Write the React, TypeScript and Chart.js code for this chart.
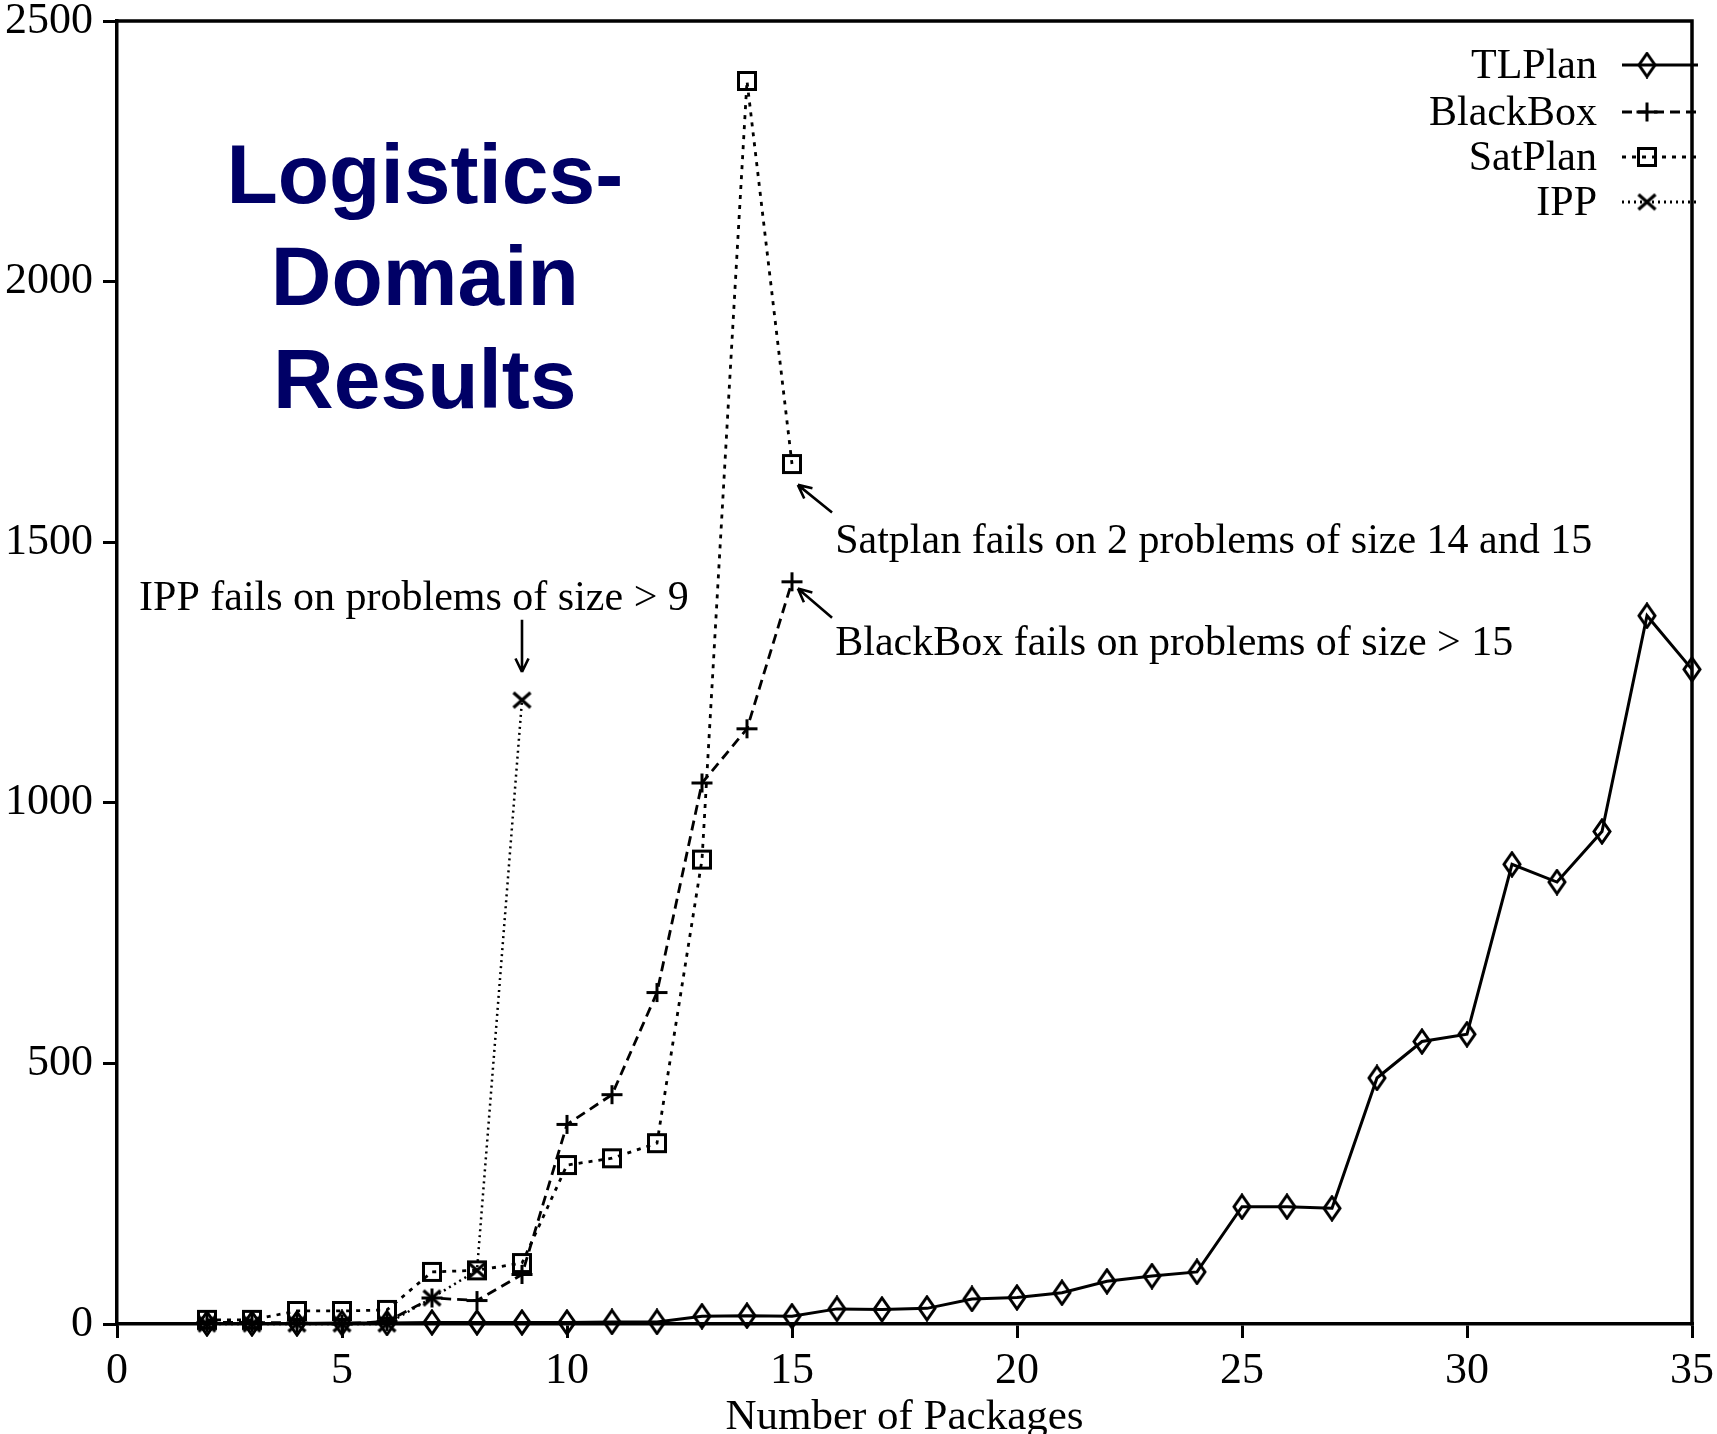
import React, { useEffect, useRef } from 'react';
import { Chart, registerables } from 'chart.js';

Chart.register(...registerables);

// ---- data ----
const tlplanX = [2, 3, 4, 5, 6, 7, 8, 9, 10, 11, 12, 13, 14, 15, 16, 17, 18, 19, 20, 21, 22, 23, 24, 25, 26, 27, 28, 29, 30, 31, 32, 33, 34, 35];
const tlplanY = [1, 1, 1, 2, 2, 3, 3, 3, 3, 4, 4, 15, 16, 15, 29, 28, 30, 48, 51, 60, 82, 92, 100, 225, 225, 222, 472, 542, 556, 882, 848, 945, 1359, 1256];

const blackboxX = [2, 3, 4, 5, 6, 7, 8, 9, 10, 11, 12, 13, 14, 15];
const blackboxY = [3, 3, 2, 0, 5, 50, 45, 95, 383, 440, 636, 1038, 1142, 1424];

const satplanX = [2, 3, 4, 5, 6, 7, 8, 9, 10, 11, 12, 13, 14, 15];
const satplanY = [8, 8, 25, 25, 27, 100, 103, 117, 305, 318, 347, 891, 2385, 1650];

const ippX = [2, 3, 4, 5, 6, 7, 8, 9];
const ippY = [0, 0, 0, 0, 0, 50, 103, 1197];

const seriesNames = ['TLPlan', 'BlackBox', 'SatPlan', 'IPP'];
const xTickValues = [0, 5, 10, 15, 20, 25, 30, 35];
const yTickValues = [0, 500, 1000, 1500, 2000, 2500];
const xAxisTitle = 'Number of Packages';
const titleLines = ['Logistics-', 'Domain', 'Results'];
const noteTexts = [
  'IPP fails on problems of size > 9',
  'Satplan fails on 2 problems of size 14 and 15',
  'BlackBox fails on problems of size > 15',
];

// ---- styling / placement (not data) ----
const SERIF = '"Liberation Serif", "Times New Roman", serif';
const SANS = '"Liberation Sans", Arial, sans-serif';
const NAVY = '#000066';

function makeMarker(kind: string): HTMLCanvasElement {
  const c = document.createElement('canvas');
  const dims: Record<string, [number, number]> = {
    diamond: [20, 27],
    plus: [23, 21],
    square: [22, 22],
    cross: [21, 19],
  };
  const [w, h] = dims[kind];
  c.width = w;
  c.height = h;
  const g = c.getContext('2d')!;
  g.strokeStyle = '#000';
  g.lineWidth = 3;
  g.beginPath();
  if (kind === 'diamond') {
    g.moveTo(w / 2, 2);
    g.lineTo(w - 2, h / 2);
    g.lineTo(w / 2, h - 2);
    g.lineTo(2, h / 2);
    g.closePath();
  } else if (kind === 'plus') {
    g.moveTo(1, h / 2);
    g.lineTo(w - 1, h / 2);
    g.moveTo(w / 2, 1);
    g.lineTo(w / 2, h - 1);
  } else if (kind === 'square') {
    g.rect(2.5, 2.5, w - 5, h - 5);
  } else {
    g.lineWidth = 3.2;
    g.moveTo(2, 2);
    g.lineTo(w - 2, h - 2);
    g.moveTo(w - 2, 2);
    g.lineTo(2, h - 2);
  }
  g.stroke();
  return c;
}

function zip(xs: number[], ys: number[]) {
  return xs.map((x, i) => ({ x, y: ys[i] }));
}

export default function App() {
  const ref = useRef<HTMLCanvasElement>(null);

  useEffect(() => {
    document.body.style.margin = '0';
    document.body.style.overflow = 'hidden';
    const markers = {
      diamond: makeMarker('diamond'),
      plus: makeMarker('plus'),
      square: makeMarker('square'),
      cross: makeMarker('cross'),
    };
    const dashes = {
      TLPlan: [] as number[],
      BlackBox: [10, 6],
      SatPlan: [4, 6],
      IPP: [2, 4],
    };
    const markerOf: Record<string, HTMLCanvasElement> = {
      TLPlan: markers.diamond,
      BlackBox: markers.plus,
      SatPlan: markers.square,
      IPP: markers.cross,
    };

    const arrow = (ctx: CanvasRenderingContext2D, x1: number, y1: number, x2: number, y2: number) => {
      ctx.save();
      ctx.strokeStyle = '#000';
      ctx.lineWidth = 2.6;
      ctx.setLineDash([]);
      ctx.beginPath();
      ctx.moveTo(x1, y1);
      ctx.lineTo(x2, y2);
      const a = Math.atan2(y2 - y1, x2 - x1);
      const L = 15;
      ctx.moveTo(x2, y2);
      ctx.lineTo(x2 - L * Math.cos(a - 0.45), y2 - L * Math.sin(a - 0.45));
      ctx.moveTo(x2, y2);
      ctx.lineTo(x2 - L * Math.cos(a + 0.45), y2 - L * Math.sin(a + 0.45));
      ctx.stroke();
      ctx.restore();
    };

    const decorPlugin = {
      id: 'decor',
      beforeDatasetsDraw(chart: any) {
        const { ctx, chartArea } = chart;
        ctx.save();
        ctx.strokeStyle = '#000';
        ctx.lineWidth = 3.5;
        ctx.beginPath();
        ctx.moveTo(chartArea.left - 1.5, chartArea.top);
        ctx.lineTo(chartArea.right, chartArea.top);
        ctx.lineTo(chartArea.right, chartArea.bottom + 1.5);
        ctx.stroke();
        ctx.restore();
      },
      afterDraw(chart: any) {
        const { ctx, chartArea } = chart;
        const xs = chart.scales.x;
        const ys = chart.scales.y;
        const px = (v: number) => xs.getPixelForValue(v);
        const py = (v: number) => ys.getPixelForValue(v);

        // Big title
        ctx.save();
        ctx.fillStyle = NAVY;
        ctx.font = `bold 84px ${SANS}`;
        ctx.textAlign = 'center';
        ctx.textBaseline = 'alphabetic';
        const tBase = [2151, 1955, 1758];
        titleLines.forEach((t, i) => ctx.fillText(t, px(6.84), py(tBase[i])));
        ctx.restore();

        // Annotations
        ctx.save();
        ctx.fillStyle = '#000';
        ctx.font = `42px ${SERIF}`;
        ctx.textAlign = 'left';
        ctx.textBaseline = 'alphabetic';
        ctx.fillText(noteTexts[0], px(0.49), py(1370));
        ctx.fillText(noteTexts[1], px(15.96), py(1480));
        ctx.fillText(noteTexts[2], px(15.96), py(1284));
        ctx.restore();
        arrow(ctx, px(9), py(1351), px(9), py(1251));
        arrow(ctx, px(15.89), py(1557), px(15.13), py(1610));
        arrow(ctx, px(15.89), py(1355), px(15.13), py(1411));

        // Legend
        const rowsY = [44, 91, 136, 181];
        const right = chartArea.right;
        ctx.save();
        ctx.font = `42px ${SERIF}`;
        ctx.fillStyle = '#000';
        ctx.textAlign = 'right';
        ctx.textBaseline = 'middle';
        seriesNames.forEach((name, i) => {
          const y = chartArea.top + rowsY[i];
          ctx.fillText(name, right - 95, y + 2);
          ctx.save();
          ctx.strokeStyle = '#000';
          ctx.lineWidth = 2.8;
          ctx.setLineDash((dashes as any)[name]);
          ctx.beginPath();
          ctx.moveTo(right - 70, y);
          ctx.lineTo(right + 6, y);
          ctx.stroke();
          ctx.restore();
          const m = markerOf[name];
          ctx.drawImage(m, right - 45 - m.width / 2, y - m.height / 2);
        });
        ctx.restore();
      },
    };

    const ds = (label: string, xsArr: number[], ysArr: number[], width: number) => ({
      label,
      data: zip(xsArr, ysArr),
      borderColor: '#000',
      backgroundColor: '#000',
      borderWidth: width,
      borderDash: (dashes as any)[label],
      pointStyle: markerOf[label],
      pointRadius: 9,
      pointHoverRadius: 9,
      tension: 0,
      clip: false as any,
      fill: false,
    });

    const chart = new Chart(ref.current!, {
      type: 'line',
      data: {
        datasets: [
          ds('TLPlan', tlplanX, tlplanY, 3),
          ds('BlackBox', blackboxX, blackboxY, 2.8),
          ds('SatPlan', satplanX, satplanY, 2.8),
          ds('IPP', ippX, ippY, 2.5),
        ],
      },
      options: {
        animation: false,
        responsive: false,
        maintainAspectRatio: false,
        events: [],
        layout: { padding: { top: 21, right: 25, left: 0, bottom: 0 } },
        plugins: {
          legend: { display: false },
          tooltip: { enabled: false },
          title: { display: false },
        },
        scales: {
          x: {
            type: 'linear',
            min: 0,
            max: 35,
            afterBuildTicks: (s: any) => {
              s.ticks = xTickValues.map((v) => ({ value: v }));
            },
            afterFit: (s: any) => {
              s.height = 110;
              s.paddingLeft = 0;
              s.paddingRight = 0;
            },
            grid: {
              drawOnChartArea: false,
              drawTicks: true,
              tickLength: 14,
              color: '#000',
              lineWidth: 3,
            },
            border: { display: true, color: '#000', width: 3.5 },
            ticks: {
              autoSkip: false,
              maxRotation: 0,
              padding: 11,
              color: '#000',
              font: { family: SERIF, size: 44, lineHeight: 1 },
              callback: (v: any) => String(v),
            },
            title: {
              display: true,
              text: xAxisTitle,
              color: '#000',
              font: { family: SERIF, size: 43, lineHeight: 1 },
              padding: { top: 0, bottom: -5 },
            },
          },
          y: {
            type: 'linear',
            min: 0,
            max: 2500,
            afterBuildTicks: (s: any) => {
              s.ticks = yTickValues.map((v) => ({ value: v }));
            },
            afterFit: (s: any) => {
              s.width = 117;
              s.paddingTop = 0;
              s.paddingBottom = 0;
            },
            grid: {
              drawOnChartArea: false,
              drawTicks: true,
              tickLength: 14,
              color: '#000',
              lineWidth: 3,
            },
            border: { display: true, color: '#000', width: 3.5 },
            ticks: {
              padding: 10,
              color: '#000',
              font: { family: SERIF, size: 44, lineHeight: 1 },
              callback: (v: any) => String(v),
            },
          },
        },
      },
      plugins: [decorPlugin],
    } as any);

    return () => chart.destroy();
  }, []);

  return (
    <canvas
      ref={ref}
      width={1717}
      height={1434}
      style={{ display: 'block', width: 1717, height: 1434 }}
    />
  );
}
